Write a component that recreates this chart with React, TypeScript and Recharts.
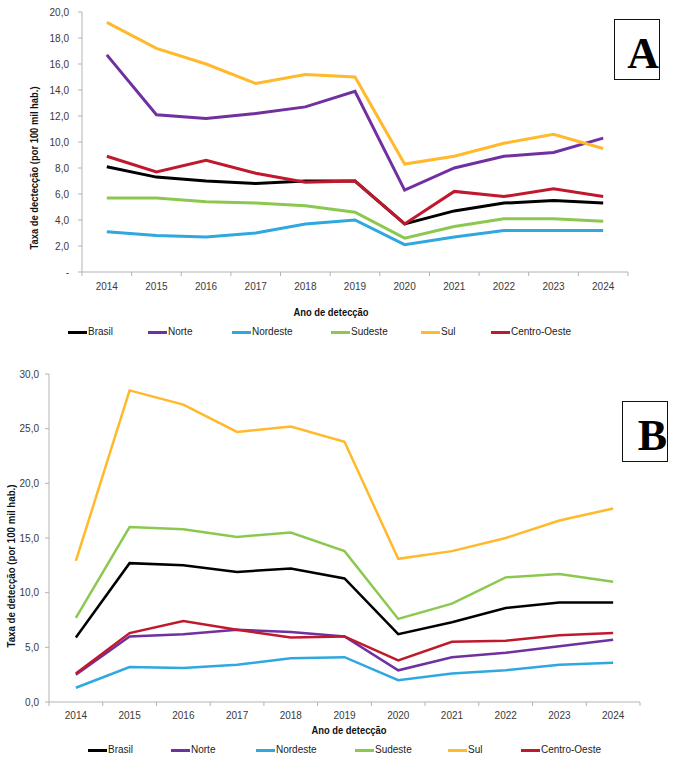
import React from 'react';
import { LineChart, Line, XAxis, YAxis } from 'recharts';

const YEARS = [2014, 2015, 2016, 2017, 2018, 2019, 2020, 2021, 2022, 2023, 2024];
const SERIES = ['Brasil', 'Norte', 'Nordeste', 'Sudeste', 'Sul', 'Centro-Oeste'];
const COLORS = ['#000000', '#7030A0', '#2FA8E0', '#8CC850', '#FFB92A', '#C0192D'];

// Painel A
const A_BRASIL = [8.1, 7.3, 7.0, 6.8, 7.0, 7.0, 3.7, 4.7, 5.3, 5.5, 5.3];
const A_NORTE = [16.7, 12.1, 11.8, 12.2, 12.7, 13.9, 6.3, 8.0, 8.9, 9.2, 10.3];
const A_NORDESTE = [3.1, 2.8, 2.7, 3.0, 3.7, 4.0, 2.1, 2.7, 3.2, 3.2, 3.2];
const A_SUDESTE = [5.7, 5.7, 5.4, 5.3, 5.1, 4.6, 2.6, 3.5, 4.1, 4.1, 3.9];
const A_SUL = [19.2, 17.2, 16.0, 14.5, 15.2, 15.0, 8.3, 8.9, 9.9, 10.6, 9.5];
const A_CO = [8.9, 7.7, 8.6, 7.6, 6.9, 7.0, 3.7, 6.2, 5.8, 6.4, 5.8];

// Painel B
const B_BRASIL = [5.9, 12.7, 12.5, 11.9, 12.2, 11.3, 6.2, 7.3, 8.6, 9.1, 9.1];
const B_NORTE = [2.5, 6.0, 6.2, 6.6, 6.4, 6.0, 2.9, 4.1, 4.5, 5.1, 5.7];
const B_NORDESTE = [1.3, 3.2, 3.1, 3.4, 4.0, 4.1, 2.0, 2.6, 2.9, 3.4, 3.6];
const B_SUDESTE = [7.7, 16.0, 15.8, 15.1, 15.5, 13.8, 7.6, 9.0, 11.4, 11.7, 11.0];
const B_SUL = [12.9, 28.5, 27.2, 24.7, 25.2, 23.8, 13.1, 13.8, 15.0, 16.6, 17.7];
const B_CO = [2.6, 6.3, 7.4, 6.6, 5.9, 6.0, 3.8, 5.5, 5.6, 6.1, 6.3];

const A_TICKS = [0, 2, 4, 6, 8, 10, 12, 14, 16, 18, 20];
const B_TICKS = [0, 5, 10, 15, 20, 25, 30];
const X_BOUNDS = [2013.5, 2014.5, 2015.5, 2016.5, 2017.5, 2018.5, 2019.5, 2020.5, 2021.5, 2022.5, 2023.5, 2024.5];

const build = (cols: number[][]) =>
  YEARS.map((year, i) => {
    const row: Record<string, number> = { year };
    SERIES.forEach((s, k) => (row[s] = cols[k][i]));
    return row;
  });

const dataA = build([A_BRASIL, A_NORTE, A_NORDESTE, A_SUDESTE, A_SUL, A_CO]);
const dataB = build([B_BRASIL, B_NORTE, B_NORDESTE, B_SUDESTE, B_SUL, B_CO]);

const FONT = "'Liberation Sans', Arial, sans-serif";
const AXIS = '#b3b3b3';
const TEXT = '#3a3a3a';

const fmt = (dash: boolean) => (v: number) =>
  dash && v === 0 ? '-' : v.toFixed(1).replace('.', ',');

const XTick = (props: any) => {
  const { x, y, payload, half, dy } = props;
  const v = payload.value;
  return (
    <g>
      <line x1={x} x2={x} y1={y} y2={y + 4} stroke={AXIS} />
      {v < 2024 && (
        <text x={x + half} y={y + dy} textAnchor="middle" fontSize={10} fill={TEXT} fontFamily={FONT}>
          {v + 0.5}
        </text>
      )}
    </g>
  );
};

const Legend = ({ top, lefts }: { top: number; lefts: number[] }) => (
  <>
    {SERIES.map((s, k) => (
      <div
        key={s}
        style={{
          position: 'absolute',
          top,
          left: lefts[k],
          display: 'flex',
          alignItems: 'center',
          fontFamily: FONT,
          fontSize: 10,
          color: '#222',
          lineHeight: '14px',
          whiteSpace: 'nowrap',
        }}
      >
        <span style={{ display: 'inline-block', width: 19, height: 3, background: COLORS[k], marginRight: 1 }} />
        {s}
      </div>
    ))}
  </>
);

const Tag = ({ top, left, letter }: { top: number; left: number; letter: string }) => (
  <div style={{ position: 'absolute', top, left, width: 44, height: 59, border: '1.5px solid #111' }}>
    <svg width={44} height={59} style={{ display: 'block' }}>
      <text x={44} y={48} textAnchor="end" fontSize={44} fontWeight="bold" fontFamily="'Liberation Serif', serif" fill="#000">
        {letter}
      </text>
    </svg>
  </div>
);

interface PanelProps {
  data: Record<string, number>[];
  top: number;
  height: number;
  margin: { top: number; right: number; left: number; bottom: number };
  yWidth: number;
  xHeight: number;
  ticks: number[];
  dash: boolean;
  yTitle: string;
  yTitlePos: [number, number];
  yTitleLen: number;
  xTitlePos: [number, number];
  half: number;
  tickDy: number;
  yTickMargin: number;
  strokeWidth: number;
}

const Panel = (p: PanelProps) => (
  <div style={{ position: 'absolute', top: p.top, left: 0 }}>
    <LineChart width={680} height={p.height} data={p.data} margin={p.margin}>
      <XAxis
        dataKey="year"
        type="number"
        domain={[2013.5, 2024.5]}
        ticks={X_BOUNDS}
        interval={0}
        height={p.xHeight}
        stroke={AXIS}
        tickSize={0}
        tickMargin={0}
        tickLine={false}
        tick={<XTick half={p.half} dy={p.tickDy} />}
        label={{
          content: () => (
            <text
              x={p.xTitlePos[0]}
              y={p.xTitlePos[1]}
              textAnchor="middle"
              dominantBaseline="central"
              fontSize={10}
              fontWeight="bold"
              fill="#111"
              fontFamily={FONT}
              textLength={75}
              lengthAdjust="spacingAndGlyphs"
            >
              Ano de detecção
            </text>
          ),
        }}
      />
      <YAxis
        type="number"
        domain={[p.ticks[0], p.ticks[p.ticks.length - 1]]}
        ticks={p.ticks}
        interval={0}
        width={p.yWidth}
        stroke={AXIS}
        tickSize={4}
        tickMargin={p.yTickMargin}
        tickFormatter={fmt(p.dash)}
        tick={{ fontSize: 10, fill: TEXT, fontFamily: FONT }}
        label={{
          content: () => (
            <text
              x={p.yTitlePos[0]}
              y={p.yTitlePos[1]}
              transform={`rotate(-90 ${p.yTitlePos[0]} ${p.yTitlePos[1]})`}
              textAnchor="middle"
              dominantBaseline="central"
              fontSize={10}
              fontWeight="bold"
              fill="#111"
              fontFamily={FONT}
              textLength={p.yTitleLen}
              lengthAdjust="spacingAndGlyphs"
            >
              {p.yTitle}
            </text>
          ),
        }}
      />
      {SERIES.map((s, k) => (
        <Line
          key={s}
          dataKey={s}
          stroke={COLORS[k]}
          strokeWidth={p.strokeWidth}
          dot={false}
          type="linear"
          isAnimationActive={false}
        />
      ))}
    </LineChart>
  </div>
);

export default function App() {
  return (
    <div style={{ position: 'absolute', top: 0, left: 0, width: 680, height: 767, background: '#fff', overflow: 'hidden' }}>
      <Panel
        data={dataA}
        top={0}
        height={345}
        margin={{ top: 12, right: 52, left: 0, bottom: 0 }}
        yWidth={82}
        xHeight={73}
        ticks={A_TICKS}
        dash
        yTitle="Taxa de dectecção (por 100 mil hab.)"
        yTitlePos={[34, 168]}
        yTitleLen={163}
        xTitlePos={[331, 312]}
        half={24.8}
        tickDy={18}
        yTickMargin={9}
        strokeWidth={3}
      />
      <Legend top={325} lefts={[68, 148, 232, 331, 421, 491]} />
      <Tag top={19} left={614} letter="A" />

      <Panel
        data={dataB}
        top={350}
        height={417}
        margin={{ top: 24, right: 40, left: 0, bottom: 0 }}
        yWidth={49}
        xHeight={65}
        ticks={B_TICKS}
        dash={false}
        yTitle="Taxa de detecção (por 100 mil hab.)"
        yTitlePos={[11, 216]}
        yTitleLen={163}
        xTitlePos={[349, 380]}
        half={26.9}
        tickDy={17}
        yTickMargin={6}
        strokeWidth={2.5}
      />
      <Legend top={743} lefts={[88, 171, 256, 355, 448, 521]} />
      <Tag top={401} left={622} letter="B" />
    </div>
  );
}
